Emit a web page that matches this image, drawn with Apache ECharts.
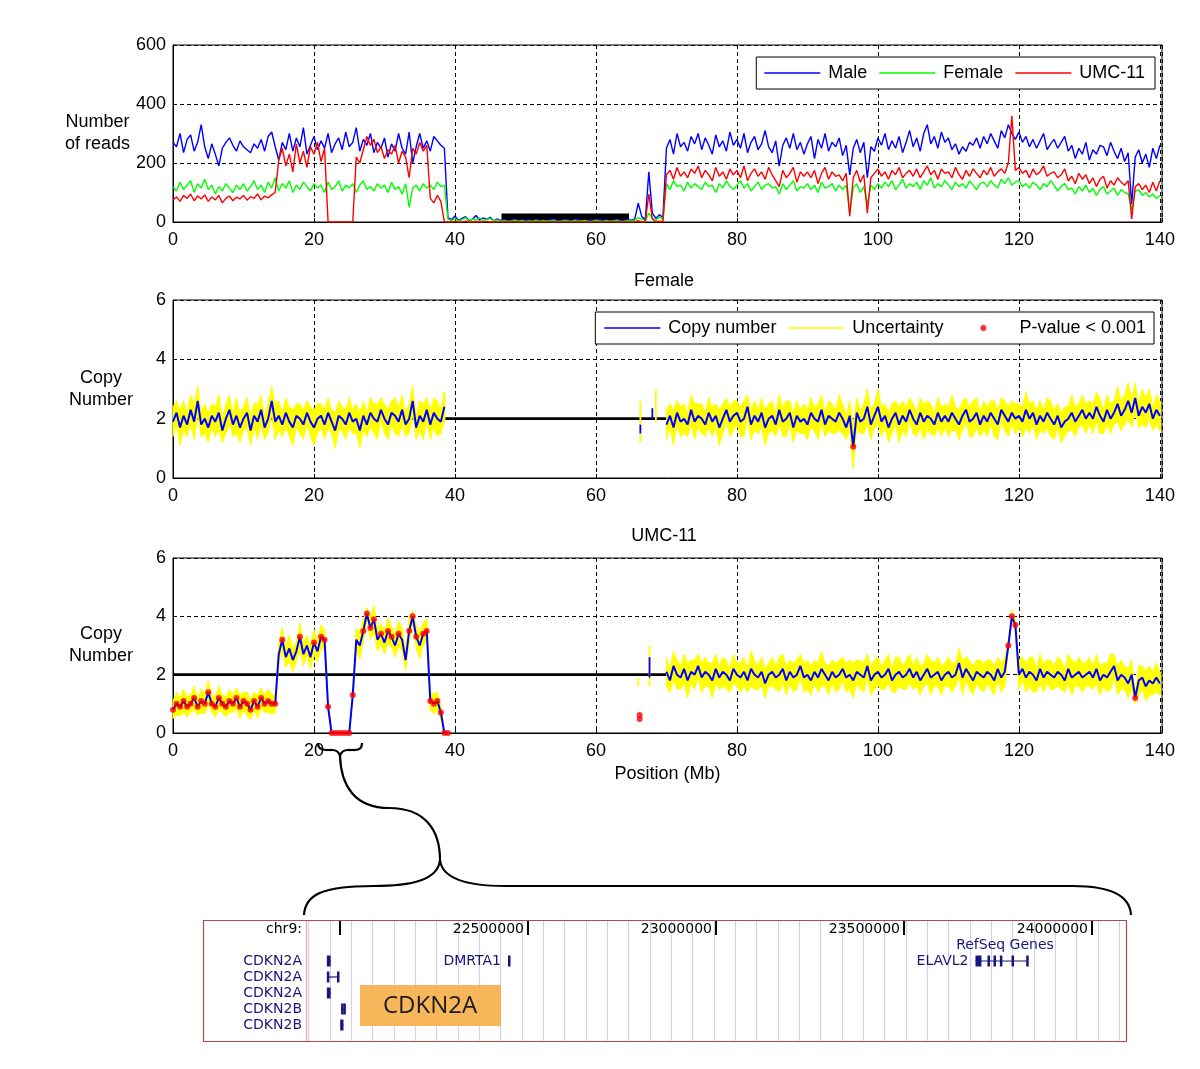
<!DOCTYPE html>
<html><head><meta charset="utf-8">
<script src="https://cdn.jsdelivr.net/npm/echarts@6/dist/echarts.min.js"></script>
<style>html,body{margin:0;padding:0;background:#fff}#chart{width:1200px;height:1069px}</style>
</head><body><div id="chart"></div>
<script>
// ---------------- DATA ----------------
const STEP = 0.5;            // bin width in Mb
const RIGHT_START = 70;      // first bin after the centromere gap (Mb)
const posTickLabels = [0, 20, 40, 60, 80, 100, 120, 140];
const readTickLabels = [0, 200, 400, 600];
const cnTickLabels = [0, 2, 4, 6];

// Number of reads, bins 0..140 Mb step 0.5
const maleReads = [270,255,300,235,280,295,240,270,330,255,
215,265,230,190,250,270,285,260,240,275,
255,245,235,265,250,280,240,290,305,255,
210,270,245,300,240,285,255,320,230,260,
290,245,275,250,300,235,265,285,245,305,
255,270,320,240,280,260,300,235,270,250,
285,220,265,240,300,250,230,305,200,255,
300,250,275,240,290,275,260,250,
15,
8,20,5,12,18,4,10,22,6,14,9,16,3,11,
5,8,3,6,10,4,7,5,9,3,6,8,4,5,7,10,3,6,5,8,4,7,9,3,5,6,8,4,10,5,7,3,6,9,4,5,8,6,
10,64,18,8,170,30,12,25,15,
250,280,230,300,255,270,240,290,265,300,
245,285,260,230,295,255,275,240,305,260,
280,250,300,235,270,290,245,265,310,255,
235,275,190,260,285,250,300,245,270,230,
265,290,215,280,250,300,240,270,255,285,
225,260,160,250,280,235,270,150,255,240,
285,260,300,245,275,250,290,235,270,310,
255,285,240,300,330,265,290,250,305,270,
285,245,265,230,255,240,270,260,285,250,
290,265,300,275,250,310,285,330,300,280,
305,270,290,255,280,250,275,300,245,265,
280,250,270,290,240,260,215,250,230,270,
210,245,230,260,255,225,270,240,215,250,
205,235,60,220,245,200,230,185,250,215,
260];
const femaleReads = [120,105,135,110,125,140,100,130,115,145,
110,125,95,120,105,130,115,100,125,110,
130,105,120,140,110,125,100,135,115,150,
105,130,115,140,100,125,110,135,120,105,
130,115,125,100,135,110,120,140,105,125,
115,130,100,125,140,110,120,105,130,115,
125,100,135,110,120,95,130,50,115,125,
105,130,115,125,110,135,120,125,
10,
5,12,3,8,15,2,10,6,14,4,9,12,3,7,
3,5,2,4,6,3,5,2,4,3,6,2,5,3,4,6,2,3,5,4,2,6,3,4,5,2,3,6,4,2,5,3,4,6,2,3,5,4,
6,15,10,4,30,12,5,18,8,
130,110,140,120,125,105,135,115,130,120,
110,135,120,125,100,130,115,140,120,110,
125,140,115,130,105,120,135,110,125,130,
115,120,95,130,110,125,140,105,120,115,
130,110,125,100,135,115,120,130,105,125,
110,125,30,115,130,100,120,60,125,110,
130,115,135,120,140,110,125,145,115,130,
120,135,110,140,125,150,115,130,120,140,
125,110,135,120,130,115,140,125,110,130,
135,120,140,125,115,145,130,150,125,135,
140,120,130,115,135,125,110,130,120,140,
125,105,120,130,110,115,95,120,105,125,
100,115,90,110,120,95,105,115,90,110,
100,95,40,105,110,90,100,85,95,80,
90];
const umcReads = [75,85,70,90,80,95,72,88,78,92,
70,85,75,90,65,80,88,72,84,78,
90,74,86,80,95,75,88,82,92,100,
210,250,190,230,170,265,200,240,185,255,
230,270,205,250,0,0,0,0,0,0,
0,0,220,200,245,290,260,280,235,255,
215,245,230,260,200,240,220,150,250,230,
270,240,260,80,65,90,70,0,
0,
0,2,0,0,3,0,0,1,0,0,2,0,0,0,
0,0,0,0,0,0,0,0,0,0,0,0,0,0,0,0,0,0,0,0,0,0,0,0,0,0,0,0,0,0,0,0,0,0,0,0,0,0,
0,5,0,0,95,10,0,3,0,
160,175,145,185,155,170,150,180,165,190,
150,175,160,140,185,155,170,145,180,160,
175,150,190,140,165,180,155,170,145,185,
160,140,120,175,150,165,185,135,170,155,
170,150,175,130,165,185,145,170,155,160,
140,165,20,150,175,135,160,30,150,165,
180,155,170,145,175,160,185,150,165,175,
155,180,150,170,190,160,175,145,180,165,
170,150,185,160,145,175,155,180,165,150,
175,160,185,155,170,180,165,200,360,175,
185,165,175,150,180,160,170,190,155,165,
170,150,160,180,140,155,130,165,145,160,
130,150,120,145,155,115,140,125,150,135,
125,140,10,120,130,110,125,100,135,105,
140];
const gapBlock = [[46.6, 64.7, 29]];   // [start Mb, end Mb, height] black block

// Female copy number: left arm 0..38.5, right arm 70..140
const femaleCnLeft = [1.9,2.2,1.7,2.1,1.8,2.3,1.9,2.6,1.8,2.0,
1.7,2.1,1.9,2.2,1.6,2.0,2.3,1.8,2.1,1.7,
2.0,2.2,1.6,2.1,1.9,2.3,1.7,2.0,2.6,1.9,
2.1,1.8,2.2,1.9,1.7,2.1,2.0,1.8,2.2,1.9,
1.7,2.0,2.1,1.8,2.2,1.9,1.6,2.1,2.0,1.8,
2.2,1.9,2.0,1.6,2.1,1.8,2.2,2.0,1.9,2.3,
2.0,1.8,2.2,2.1,1.9,2.3,1.8,2.0,2.6,1.7,
2.1,1.9,2.3,1.8,2.2,2.0,1.9,2.4];
const femaleErrLeft = [.5,.4,.6,.5,.4,.5,.6,.5,.4,.5,
.5,.4,.5,.6,.4,.5,.5,.4,.6,.5,
.4,.5,.5,.4,.6,.5,.4,.5,.5,.6,
.5,.4,.5,.5,.6,.4,.5,.5,.4,.5,
.6,.5,.4,.5,.5,.4,.6,.5,.4,.5,
.5,.4,.5,.6,.5,.4,.5,.5,.6,.4,
.5,.5,.4,.6,.5,.5,.4,.5,.5,.4,
.5,.6,.4,.5,.5,.6,.4,.5];
const femaleCnRight = [1.8,2.1,1.7,2.2,1.9,2.0,1.8,2.3,1.9,2.1,
2.0,1.8,2.2,1.9,2.1,1.7,2.0,2.3,1.9,2.1,
2.2,1.9,2.0,2.4,1.8,2.1,1.9,2.2,1.7,2.0,
2.1,1.8,2.3,1.9,2.0,2.2,1.7,2.1,1.9,2.0,
1.8,2.2,2.0,1.9,2.3,1.8,2.1,2.0,1.9,2.2,
2.0,1.7,2.1,1.05,2.2,1.9,2.0,2.4,1.8,2.1,
2.4,1.9,2.1,1.7,2.0,2.2,1.8,2.1,1.9,2.3,
2.0,1.8,2.2,1.9,2.1,2.0,1.8,2.2,1.9,2.1,
1.9,2.2,2.0,1.8,2.1,2.3,1.9,2.0,2.2,1.8,
2.1,1.9,2.2,2.0,1.8,2.3,2.1,1.9,2.2,2.0,
2.1,1.9,2.3,2.0,2.2,1.8,2.1,1.9,2.2,2.0,
1.8,2.1,1.7,1.9,2.0,2.2,1.9,2.1,2.3,2.0,
2.2,2.0,2.4,2.1,1.9,2.3,2.0,2.2,2.5,2.1,
2.3,2.6,2.2,2.7,2.1,2.4,2.2,2.5,2.0,2.3,
2.1];
const femaleErrRight = [.5,.4,.6,.4,.5,.5,.4,.5,.6,.4,
.5,.4,.5,.5,.4,.6,.5,.4,.5,.5,
.4,.5,.6,.4,.5,.5,.4,.5,.6,.5,
.5,.4,.5,.5,.6,.4,.5,.5,.4,.5,
.5,.5,.4,.6,.5,.4,.5,.5,.4,.6,
.5,.4,.5,.75,.5,.4,.5,.6,.5,.4,
.6,.5,.4,.5,.5,.4,.6,.5,.5,.4,
.5,.4,.5,.6,.5,.5,.4,.5,.5,.4,
.5,.6,.4,.5,.5,.4,.5,.6,.5,.4,
.5,.5,.4,.6,.5,.4,.5,.5,.4,.5,
.4,.5,.6,.5,.4,.5,.5,.4,.5,.6,
.5,.4,.5,.5,.4,.6,.5,.4,.5,.5,
.4,.5,.5,.6,.4,.5,.5,.4,.6,.5,
.5,.6,.5,.5,.4,.6,.5,.5,.4,.5,
.5];
const femaleSigPositions = [96.5];
const femaleSpecksBlue = [[66.3, 1.5, 1.8], [68.0, 2.0, 2.35]];
const femaleSpecksYellow = [[66.3, 1.2, 2.6], [68.5, 1.9, 3.0]];

// UMC-11 copy number: left arm 0..39, right arm 70..140
const umcCnLeft = [0.8,1.0,0.9,1.1,0.9,1.0,1.2,0.9,1.1,1.0,
1.4,1.0,0.9,1.2,1.0,0.9,1.1,1.0,1.2,0.9,
1.1,1.0,0.8,1.1,0.9,1.2,1.0,1.1,1.0,1.0,
2.7,3.2,2.6,2.9,2.5,2.8,3.3,2.7,3.0,2.6,
3.1,2.8,3.3,3.2,0.9,0,0,0,0,0,
0,1.3,3.2,3.0,3.5,4.1,3.6,3.9,3.2,3.4,
3.1,3.5,3.3,3.0,3.4,3.2,2.5,3.5,4.0,3.3,
3.0,3.4,3.5,1.1,1.0,1.1,0.7,0,0];
const umcErrLeft = [.3,.4,.3,.4,.35,.3,.4,.3,.4,.35,
.4,.3,.35,.4,.3,.35,.4,.3,.35,.4,
.3,.4,.35,.3,.4,.35,.3,.4,.35,.3,
.35,.4,.35,.45,.4,.35,.45,.4,.35,.4,
.45,.35,.4,.35,.15,.02,.02,.02,.02,.02,
.02,.15,.4,.45,.4,.2,.4,.45,.4,.35,
.4,.45,.35,.4,.45,.4,.35,.45,.2,.4,
.45,.4,.4,.3,.35,.3,.25,.02,.02];
const umcCnRight = [2.1,1.8,2.3,2.0,1.9,2.2,1.8,2.1,2.0,2.3,
1.9,2.1,2.0,1.8,2.2,1.9,2.1,2.0,1.8,2.2,
2.0,1.9,2.1,1.8,2.2,2.0,1.9,2.1,1.7,2.0,
2.1,1.9,2.0,2.2,1.8,2.1,1.9,2.0,2.3,1.9,
2.0,1.8,2.1,1.9,2.2,2.0,1.8,2.1,1.9,2.0,
2.2,1.9,2.0,1.8,2.1,2.0,1.9,2.3,1.8,2.0,
2.1,1.9,2.0,2.2,1.8,2.0,2.1,1.9,2.0,2.2,
1.9,2.1,1.8,2.0,2.2,1.9,2.0,2.1,1.8,2.0,
2.1,1.9,2.0,2.4,1.9,2.2,2.0,1.8,2.1,2.0,
1.9,2.1,2.0,1.8,2.2,1.9,2.1,3.0,4.0,3.7,
2.0,2.2,1.9,2.1,2.0,1.8,2.2,1.9,2.1,2.0,
1.9,2.1,2.0,1.8,2.2,1.9,2.0,2.1,1.9,2.0,
2.1,1.9,2.2,1.8,2.0,1.9,2.1,2.3,1.8,2.0,
1.9,1.7,2.0,1.2,1.8,1.9,1.6,1.8,1.7,1.9,
1.7];
const umcErrRight = [.5,.4,.5,.5,.4,.5,.6,.4,.5,.4,
.5,.5,.4,.6,.5,.4,.5,.5,.4,.5,
.4,.5,.5,.4,.6,.5,.4,.5,.5,.4,
.5,.4,.6,.5,.5,.4,.5,.5,.4,.5,
.5,.5,.4,.5,.6,.4,.5,.4,.5,.5,
.4,.5,.5,.6,.4,.5,.5,.4,.5,.5,
.5,.4,.5,.5,.4,.6,.5,.4,.5,.5,
.4,.5,.5,.4,.5,.6,.4,.5,.5,.4,
.5,.5,.4,.5,.6,.4,.5,.5,.4,.5,
.5,.4,.5,.5,.4,.5,.5,.2,.2,.2,
.5,.4,.5,.5,.6,.4,.5,.5,.4,.5,
.4,.5,.5,.4,.5,.6,.4,.5,.5,.4,
.5,.4,.5,.5,.4,.5,.6,.4,.5,.5,
.4,.5,.5,.2,.5,.4,.5,.5,.4,.5,
.4];
const umcSigRanges = [[0, 14.5], [22, 25], [36.5, 39]];
const umcSigPositions = [15.5,18,20,21,21.5,25.5,27,27.5,28,28.5,29.5,30.5,31,32,33.5,34,34.5,35.5,36,118.5,119,119.5,136.5];
const umcSigExtra = [[66.2, 0.48], [66.2, 0.62]];
const umcSpecksBlue = [[67.6, 1.9, 2.6]];
const umcSpecksYellow = [[67.6, 1.6, 3.0], [66.0, 1.6, 1.9]];
const normalLevel = [[0, 2], [70, 2]];

// Genome browser inset (chr9, hg19)
const bpRange = [21909574, 24090426];
const bpTickValues = [22000000, 22500000, 23000000, 23500000, 24000000];
const bpLabelValues = [22500000, 23000000, 23500000, 24000000];
const trackRows = ['chr9:', '', 'CDKN2A', 'CDKN2A', 'CDKN2A', 'CDKN2B', 'CDKN2B'];
const geneNames = ['CDKN2A','CDKN2A','CDKN2A','CDKN2B','CDKN2B','DMRTA1','ELAVL2'];
const geneRows  = [2, 3, 4, 5, 6, 2, 2];
const geneStart = [21967751, 21967751, 21967751, 22002902, 22002902, 22446840, 23690102];
const geneEnd   = [21975098, 21994490, 21975098, 22009312, 22009312, 22452472, 23826335];
const geneExons = [
  [[21965000, 21975098]],
  [[21965000, 21969000], [21992000, 21994490]],
  [[21965000, 21975098]],
  [[22002902, 22003400], [22008900, 22009312]],
  [[22000500, 22009312]],
  [[22446840, 22452472]],
  [[23690102, 23706000], [23722000, 23723000], [23738000, 23739000], [23755000, 23756000], [23786000, 23787000], [23825000, 23826335]]
];
const geneLabelShown = [false, false, false, false, false, true, true];

// ---------------- CHART ----------------
const FONT = '"Liberation Sans", Arial, sans-serif';
const FS = 18;
const UFONT = '"DejaVu Sans", sans-serif';
const GENE_COLOR = '#16167c';

const pts = (start, arr) => arr.map((v, i) => [start + i * STEP, v]);
const band = (start, cn, err) => cn.map((v, i) => [start + i * STEP, v - err[i], v + err[i]]);
const valueAt = (pos, start, arr) => arr[Math.round((pos - start) / STEP)];

const femaleLine = pts(0, femaleCnLeft).concat([[54, null]], pts(RIGHT_START, femaleCnRight));
const umcLine = pts(0, umcCnLeft).concat([[54, null]], pts(RIGHT_START, umcCnRight));
const femaleBand = band(0, femaleCnLeft, femaleErrLeft).concat(band(RIGHT_START, femaleCnRight, femaleErrRight));
const umcBand = band(0, umcCnLeft, umcErrLeft).concat(band(RIGHT_START, umcCnRight, umcErrRight));
const femaleSig = femaleSigPositions.map(p => [p, valueAt(p, RIGHT_START, femaleCnRight)]);
const umcSig = [];
umcSigRanges.forEach(([a, b]) => { for (let p = a; p <= b + 1e-9; p += STEP) umcSig.push([p, valueAt(p, 0, umcCnLeft)]); });
umcSigPositions.forEach(p => umcSig.push([p, p < 50 ? valueAt(p, 0, umcCnLeft) : valueAt(p, RIGHT_START, umcCnRight)]));
umcSigExtra.forEach(d => umcSig.push(d));

function posAxis(gi, name) {
  return {
    type: 'value', gridIndex: gi, min: 0, max: 140.3, interval: 20,
    axisLine: { show: true, onZero: false, lineStyle: { color: '#000', width: 1 } },
    axisTick: { show: true, inside: true, length: 4, lineStyle: { color: '#000' } },
    axisLabel: { color: '#000', fontFamily: FONT, fontSize: FS, margin: 9,
      formatter: v => posTickLabels.includes(v) ? String(v) : '' },
    splitLine: { show: true, lineStyle: { color: '#000', type: [4, 3], width: 1 } },
    name: name || '', nameLocation: 'middle', nameGap: 32,
    nameTextStyle: { color: '#000', fontFamily: FONT, fontSize: FS }
  };
}
function valAxis(gi, max, interval, ticks, name, gap) {
  return {
    type: 'value', gridIndex: gi, min: 0, max: max, interval: interval,
    axisLine: { show: true, onZero: false, lineStyle: { color: '#000', width: 1 } },
    axisTick: { show: true, inside: true, length: 4, lineStyle: { color: '#000' } },
    axisLabel: { color: '#000', fontFamily: FONT, fontSize: FS, margin: 7,
      formatter: v => ticks.includes(v) ? String(v) : '' },
    splitLine: { show: true, lineStyle: { color: '#000', type: [4, 3], width: 1 } },
    name: name, nameLocation: 'middle', nameRotate: 0, nameGap: gap,
    nameTextStyle: { color: '#000', fontFamily: FONT, fontSize: FS, align: 'center', verticalAlign: 'middle', lineHeight: 22 }
  };
}

// yellow uncertainty band: a trapezoid between each bin and the next one
function bandRender(bandData) {
  return function (params, api) {
    const i = params.dataIndex;
    const cur = bandData[i], nxt = bandData[i + 1];
    if (!nxt || nxt[0] - cur[0] > STEP * 1.01) {
      const a = api.coord([cur[0], cur[1]]), b = api.coord([cur[0], cur[2]]);
      return { type: 'line', shape: { x1: a[0], y1: a[1], x2: b[0], y2: b[1] }, style: { stroke: '#ffff00', lineWidth: 2 } };
    }
    const p = [api.coord([cur[0], cur[2]]), api.coord([nxt[0], nxt[2]]), api.coord([nxt[0], nxt[1]]), api.coord([cur[0], cur[1]])];
    return { type: 'polygon', shape: { points: p }, style: { fill: '#ffff00', stroke: '#ffff00', lineWidth: 0.8 } };
  };
}
function speckRender(color) {
  return function (params, api) {
    const a = api.coord([api.value(0), api.value(1)]);
    const b = api.coord([api.value(0), api.value(2)]);
    return { type: 'line', shape: { x1: a[0], y1: a[1], x2: b[0], y2: b[1] }, style: { stroke: color, lineWidth: 1.8 } };
  };
}

function cnSeries(gi, line, bandData, sig, specksB, specksY) {
  return [
    { type: 'line', xAxisIndex: gi, yAxisIndex: gi, data: normalLevel, symbol: 'none', silent: true, z: 1,
      lineStyle: { color: '#000', width: 2.6 }, color: '#000', animation: false },
    { name: 'Uncertainty', type: 'custom', xAxisIndex: gi, yAxisIndex: gi, data: bandData, encode: { x: 0, y: [1, 2] },
      renderItem: bandRender(bandData), itemStyle: { color: '#ffff00' }, z: 2, animation: false },
    { type: 'custom', xAxisIndex: gi, yAxisIndex: gi, data: specksY, encode: { x: 0, y: [1, 2] },
      renderItem: speckRender('#ffff00'), z: 2, animation: false },
    { type: 'custom', xAxisIndex: gi, yAxisIndex: gi, data: specksB, encode: { x: 0, y: [1, 2] },
      renderItem: speckRender('#0000ff'), z: 3, animation: false },
    { name: 'Copy number', type: 'line', xAxisIndex: gi, yAxisIndex: gi, data: line, symbol: 'none', connectNulls: false,
      color: '#0000ff', lineStyle: { color: '#0000ff', width: 2 }, z: 3, animation: false },
    { name: 'P-value < 0.001', type: 'scatter', xAxisIndex: gi, yAxisIndex: gi, data: sig, symbol: 'circle', symbolSize: 6,
      color: '#ff0000', itemStyle: { color: '#ff0000' }, z: 4, animation: false }
  ];
}

const readLine = (name, arr, color) => ({
  name: name, type: 'line', xAxisIndex: 0, yAxisIndex: 0, data: pts(0, arr), symbol: 'none',
  color: color, lineStyle: { color: color, width: 1.4 }, z: 3, animation: false
});

const gridFrame = { show: true, borderColor: '#000', borderWidth: 1, backgroundColor: '#fff' };

// decorative braces (annotation, drawn as bezier pieces)
const BR = { fill: 'none', stroke: '#000', lineWidth: 2.2 };
const bz = (x1, y1, c1x, c1y, c2x, c2y, x2, y2) => ({ type: 'bezierCurve', z: 100,
  shape: { x1: x1, y1: y1, cpx1: c1x, cpy1: c1y, cpx2: c2x, cpy2: c2y, x2: x2, y2: y2 }, style: BR });
const ln = (x1, y1, x2, y2) => ({ type: 'line', z: 100, shape: { x1: x1, y1: y1, x2: x2, y2: y2 }, style: BR });

const LINE_ICON = 'path://M0,0 L56,0 L56,1.3 L0,1.3 Z';
const DOT_ICON = 'path://M0,3 L0.01,3 L0,3.01 Z M56,3 L56.01,3 L56,3.01 Z M25,3 A3,3 0 1 1 31,3 A3,3 0 1 1 25,3 Z';

const option = {
  animation: false,
  backgroundColor: '#fff',
  grid: [
    Object.assign({ left: 173, right: 38, top: 45, height: 177 }, gridFrame),
    Object.assign({ left: 173, right: 38, top: 300, height: 178 }, gridFrame),
    Object.assign({ left: 173, right: 38, top: 558, height: 175 }, gridFrame),
    { left: 306, right: 74, top: 921, height: 112 },
    { left: 308.67, right: 80.67, top: 920, height: 121 }
  ],
  xAxis: [
    posAxis(0), posAxis(1), posAxis(2, 'Position (Mb)'),
    { type: 'value', gridIndex: 3, position: 'top', min: bpRange[0], max: bpRange[1],
      axisLine: { show: false },
      axisTick: { show: true, inside: true, length: 14, customValues: bpTickValues, lineStyle: { color: '#000', width: 2 } },
      axisLabel: { show: true, inside: true, customValues: bpLabelValues, color: '#000', fontFamily: UFONT, fontSize: 14,
        align: 'right', verticalAlign: 'middle', margin: 8, padding: [0, 4, 0, 0], formatter: v => String(v) },
      splitLine: { show: false } },
    { type: 'value', gridIndex: 4, min: 0, max: 38, interval: 1,
      axisLine: { show: false }, axisTick: { show: false }, axisLabel: { show: false },
      splitLine: { show: true, lineStyle: { color: '#d0d0f4', width: 1.2 } } }
  ],
  yAxis: [
    valAxis(0, 600, 200, readTickLabels, 'Number\nof reads', 73),
    valAxis(1, 6, 2, cnTickLabels, 'Copy\nNumber', 72),
    valAxis(2, 6, 2, cnTickLabels, 'Copy\nNumber', 72),
    { type: 'category', gridIndex: 3, inverse: true, data: trackRows,
      axisLine: { show: false }, axisTick: { show: false }, splitLine: { show: false },
      axisLabel: { fontFamily: UFONT, fontSize: 14, margin: 4, interval: 0,
        color: (v, i) => (i === 0 ? '#000' : GENE_COLOR) } },
    { type: 'value', gridIndex: 4, min: 0, max: 1, axisLine: { show: false }, axisTick: { show: false },
      axisLabel: { show: false }, splitLine: { show: false } }
  ],
  legend: [
    { data: ['Male', 'Female', 'UMC-11'], right: 45, top: 57, orient: 'horizontal', selectedMode: false,
      backgroundColor: '#fff', borderColor: '#000', borderWidth: 1, padding: [7, 10, 7, 8], itemGap: 12,
      itemWidth: 56, itemHeight: 6, icon: LINE_ICON,
      textStyle: { fontFamily: FONT, fontSize: FS, color: '#000', padding: [0, 0, 0, 3] } },
    { data: ['Copy number', 'Uncertainty', { name: 'P-value < 0.001', icon: DOT_ICON }], right: 46, top: 312,
      orient: 'horizontal', selectedMode: false,
      backgroundColor: '#fff', borderColor: '#000', borderWidth: 1, padding: [7, 8, 7, 9], itemGap: 12,
      itemWidth: 56, itemHeight: 6, icon: LINE_ICON,
      textStyle: { fontFamily: FONT, fontSize: FS, color: '#000', padding: [0, 0, 0, 3] } }
  ],
  series: [
    { type: 'custom', xAxisIndex: 0, yAxisIndex: 0, data: gapBlock, encode: { x: [0, 1], y: 2 }, z: 2,
      renderItem: (params, api) => {
        const a = api.coord([api.value(0), api.value(2)]);
        const b = api.coord([api.value(1), 0]);
        return { type: 'rect', shape: { x: a[0], y: a[1], width: b[0] - a[0], height: b[1] - a[1] }, style: { fill: '#000' } };
      } },
    readLine('Male', maleReads, '#0000ff'),
    readLine('Female', femaleReads, '#00ff00'),
    readLine('UMC-11', umcReads, '#ff0000'),
    ...cnSeries(1, femaleLine, femaleBand, femaleSig, femaleSpecksBlue, femaleSpecksYellow),
    ...cnSeries(2, umcLine, umcBand, umcSig, umcSpecksBlue, umcSpecksYellow),
    { type: 'custom', xAxisIndex: 3, yAxisIndex: 3, encode: { x: [0, 1], y: 2 }, z: 3,
      data: geneStart.map((s, i) => [s, geneEnd[i], geneRows[i], i]),
      renderItem: (params, api) => {
        const i = api.value(3), row = api.value(2);
        const s = api.coord([api.value(0), row]);
        const e = api.coord([api.value(1), row]);
        const children = [{ type: 'line', shape: { x1: s[0], y1: s[1], x2: e[0], y2: e[1] }, style: { stroke: GENE_COLOR, lineWidth: 1.2 } }];
        geneExons[i].forEach(([a, b]) => {
          const pa = api.coord([a, row]), pb = api.coord([b, row]);
          const w = Math.max(pb[0] - pa[0], 2.5);
          children.push({ type: 'rect', shape: { x: pa[0], y: pa[1] - 5.5, width: w, height: 11 }, style: { fill: GENE_COLOR } });
        });
        if (geneLabelShown[i]) {
          children.push({ type: 'text', style: { text: geneNames[i], x: s[0] - 7, y: s[1], align: 'right', verticalAlign: 'middle',
            font: '14px ' + UFONT, fill: GENE_COLOR } });
        }
        return { type: 'group', children: children };
      } }
  ],
  graphic: { elements: [
    { type: 'text', x: 664, y: 281, z: 100, style: { text: 'Female', font: FS + 'px ' + FONT, fill: '#000', align: 'center', verticalAlign: 'middle' } },
    { type: 'text', x: 664, y: 536, z: 100, style: { text: 'UMC-11', font: FS + 'px ' + FONT, fill: '#000', align: 'center', verticalAlign: 'middle' } },
    // small brace under the deletion
    bz(318, 743, 318, 748, 321, 750, 326, 750), ln(326, 750, 332, 750), bz(332, 750, 337, 750, 339, 752, 340, 756),
    bz(340, 756, 341, 752, 343, 750, 348, 750), ln(348, 750, 355, 750), bz(355, 750, 360, 750, 362, 748, 362, 743),
    // stem
    bz(340, 756, 341, 786, 355, 808, 389, 808), bz(389, 808, 425, 808, 440, 830, 440, 860),
    // big brace
    bz(304, 915, 305, 895, 322, 886, 373, 886), bz(373, 886, 412, 886, 438, 880, 440, 860),
    bz(440, 860, 442, 878, 465, 886, 505, 886), ln(505, 886, 1073, 886), bz(1073, 886, 1112, 886, 1130, 896, 1131, 915),
    // browser frame
    { type: 'rect', z: 100, shape: { x: 203.5, y: 920.5, width: 923, height: 121 }, style: { fill: 'none', stroke: '#b54a4a', lineWidth: 1.2 } },
    { type: 'line', z: 100, shape: { x1: 306.5, y1: 921, x2: 306.5, y2: 1041 }, style: { stroke: '#f2a4a4', lineWidth: 1.2 } },
    { type: 'text', x: 1005, y: 945, z: 100, style: { text: 'RefSeq Genes', font: '14px ' + UFONT, fill: GENE_COLOR, align: 'center', verticalAlign: 'middle' } },
    { type: 'rect', z: 100, shape: { x: 360, y: 985, width: 141, height: 41 }, style: { fill: '#f6b04c', opacity: 0.92 } },
    { type: 'text', x: 430, y: 1006, z: 101, style: { text: 'CDKN2A', font: '24px "Open Sans", sans-serif', fill: '#1a1a1a', align: 'center', verticalAlign: 'middle' } }
  ] }
};

const chart = echarts.init(document.getElementById('chart'), null, { renderer: 'canvas' });
chart.setOption(option);
</script></body></html>
